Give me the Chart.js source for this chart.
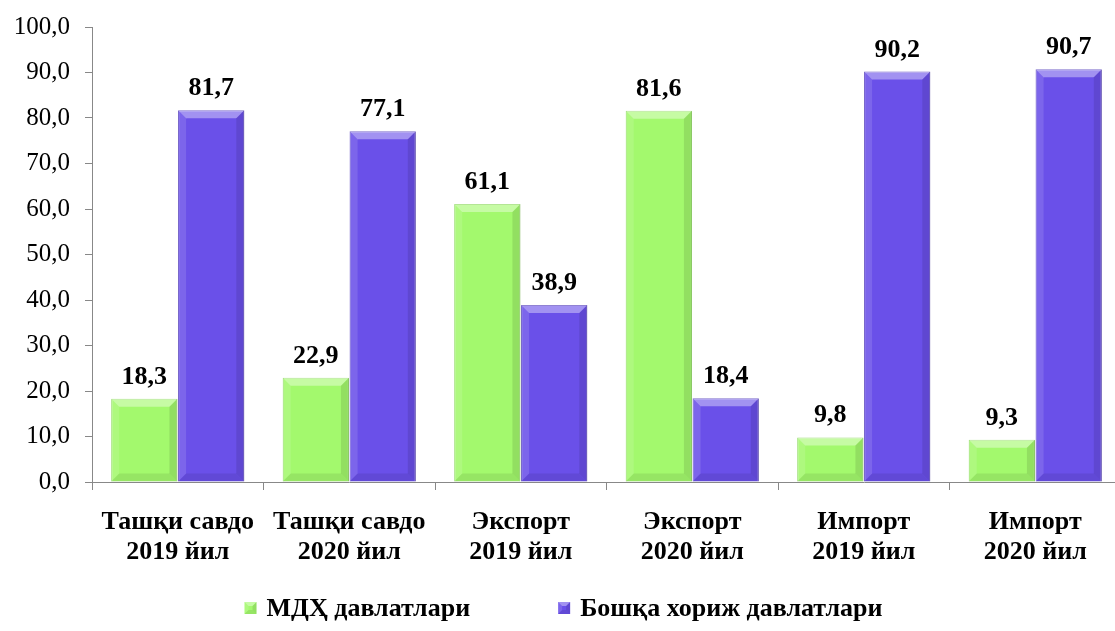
<!DOCTYPE html>
<html>
<head>
<meta charset="utf-8">
<script src="https://cdn.jsdelivr.net/npm/chart.js@4.4.1/dist/chart.umd.min.js"></script>
<style>
  html, body { margin: 0; padding: 0; background: #fff; overflow: hidden; }
  #wrap { width: 1125px; height: 631px; }
</style>
</head>
<body>
<div id="wrap"><canvas id="chart"></canvas></div>
<script>
// --- Data ---
const categories = [
    ['Ташқи савдо', '2019 йил'],
    ['Ташқи савдо', '2020 йил'],
    ['Экспорт', '2019 йил'],
    ['Экспорт', '2020 йил'],
    ['Импорт', '2019 йил'],
    ['Импорт', '2020 йил']
];
const cisValues = [18.3, 22.9, 61.1, 81.6, 9.8, 9.3];
const otherValues = [81.7, 77.1, 38.9, 18.4, 90.2, 90.7];
const seriesNames = ['МДҲ давлатлари', 'Бошқа хориж давлатлари'];

const serif = "'Liberation Serif', 'Times New Roman', serif";

function fmt(v) {
    return v.toFixed(1).replace('.', ',');
}

// bevelled box, used for the bars and the legend keys
function drawBevel(ctx, left, top, right, bottom, size) {
    const b = Math.min(size, (bottom - top) / 2, (right - left) / 2);
    const faces = [
        ['rgba(255,255,255,0.38)', [[left, top], [right, top], [right - b, top + b], [left + b, top + b]]],
        ['rgba(255,255,255,0.12)', [[left, top], [left + b, top + b], [left + b, bottom - b], [left, bottom]]],
        ['rgba(0,0,0,0.10)', [[right, top], [right - b, top + b], [right - b, bottom - b], [right, bottom]]],
        ['rgba(0,0,0,0.08)', [[left, bottom], [right, bottom], [right - b, bottom - b], [left + b, bottom - b]]]
    ];
    faces.forEach(([color, pts]) => {
        ctx.fillStyle = color;
        ctx.beginPath();
        ctx.moveTo(pts[0][0], pts[0][1]);
        pts.slice(1).forEach(p => ctx.lineTo(p[0], p[1]));
        ctx.closePath();
        ctx.fill();
    });
}

const bevelPlugin = {
    id: 'bevel',
    afterDatasetsDraw(chart) {
        const { ctx } = chart;
        ctx.save();
        chart.data.datasets.forEach((ds, i) => {
            chart.getDatasetMeta(i).data.forEach(bar => {
                drawBevel(ctx, bar.x - bar.width / 2, bar.y, bar.x + bar.width / 2, bar.base, 8);
            });
        });
        ctx.restore();
    }
};

// value labels above each bar
const valueLabels = {
    id: 'valueLabels',
    afterDatasetsDraw(chart) {
        const { ctx } = chart;
        ctx.save();
        ctx.font = 'bold 26px ' + serif;
        ctx.fillStyle = '#000';
        ctx.textAlign = 'center';
        ctx.textBaseline = 'alphabetic';
        chart.data.datasets.forEach((ds, i) => {
            chart.getDatasetMeta(i).data.forEach((bar, j) => {
                ctx.fillText(fmt(ds.data[j]), bar.x, bar.y - 15);
            });
        });
        ctx.restore();
    }
};

// legend drawn by hand so the wide gap between the two keys can be kept
const bottomLegend = {
    id: 'bottomLegend',
    afterDraw(chart) {
        const { ctx } = chart;
        const box = 12, textGap = 10, itemGap = 88;
        ctx.save();
        ctx.font = 'bold 26px ' + serif;
        const items = chart.data.datasets.map(ds => ({
            label: ds.label,
            color: ds.backgroundColor,
            w: box + textGap + ctx.measureText(ds.label).width
        }));
        const total = items.reduce((s, it) => s + it.w, 0) + itemGap * (items.length - 1);
        let x = (chart.chartArea.left + chart.chartArea.right) / 2 - total / 2 - 43;
        const y = 608;
        items.forEach(it => {
            ctx.fillStyle = it.color;
            ctx.fillRect(x, y - box / 2, box, box);
            drawBevel(ctx, x, y - box / 2, x + box, y + box / 2, 4);
            ctx.fillStyle = '#000';
            ctx.textAlign = 'left';
            ctx.textBaseline = 'middle';
            ctx.fillText(it.label, x + box + textGap, y + 1);
            x += it.w + itemGap;
        });
        ctx.restore();
    }
};

const ctx = document.getElementById('chart').getContext('2d');
new Chart(ctx, {
    type: 'bar',
    data: {
        labels: categories,
        datasets: [
            {
                label: seriesNames[0],
                data: cisValues,
                backgroundColor: '#a3f96d',
                borderColor: '#86d655',
                borderWidth: 1,
                categoryPercentage: 0.78,
                barPercentage: 0.99
            },
            {
                label: seriesNames[1],
                data: otherValues,
                backgroundColor: '#6a50e9',
                borderColor: '#4c36b8',
                borderWidth: 1,
                categoryPercentage: 0.78,
                barPercentage: 0.99
            }
        ]
    },
    options: {
        responsive: true,
        maintainAspectRatio: false,
        animation: false,
        layout: { padding: { top: 27, right: 4, left: 0, bottom: 0 } },
        scales: {
            y: {
                min: 0,
                max: 100,
                ticks: {
                    stepSize: 10,
                    color: '#000',
                    padding: 15,
                    font: { size: 25, family: serif },
                    callback: v => fmt(v)
                },
                grid: { display: true, drawOnChartArea: false, tickLength: 7, color: '#888' },
                border: { color: '#888', width: 1 },
                afterFit(scale) {
                    scale.width = 92;
                    scale.paddingTop = 0;
                    scale.paddingBottom = 0;
                }
            },
            x: {
                ticks: {
                    color: '#000',
                    padding: 17,
                    font: { size: 26, weight: 'bold', family: serif, lineHeight: 1.15 }
                },
                grid: { display: true, drawOnChartArea: false, tickLength: 8, color: '#888', offset: true },
                border: { color: '#888', width: 1 },
                afterFit(scale) { scale.height = 149; }
            }
        },
        plugins: {
            legend: { display: false },
            tooltip: { enabled: false }
        }
    },
    plugins: [bevelPlugin, valueLabels, bottomLegend]
});
</script>
</body>
</html>
